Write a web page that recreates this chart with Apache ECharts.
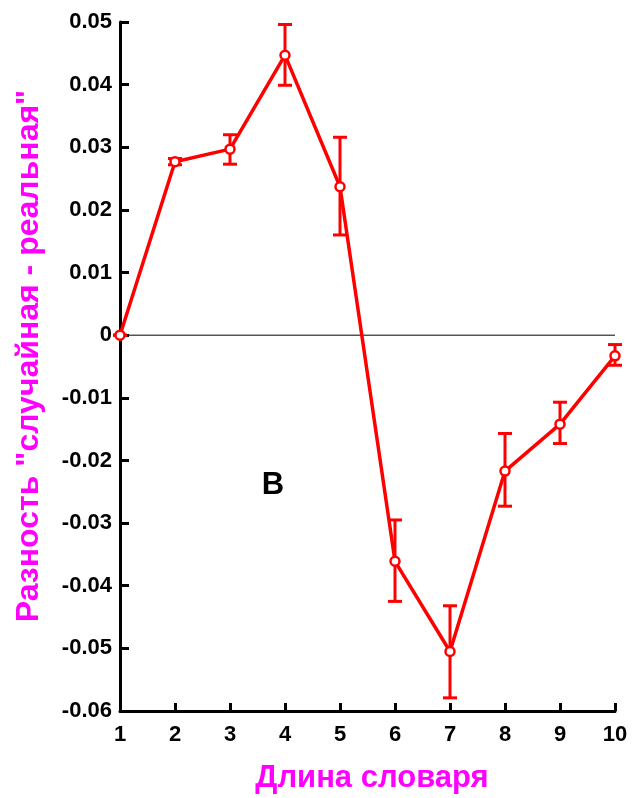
<!DOCTYPE html>
<html><head><meta charset="utf-8">
<script src="https://cdn.jsdelivr.net/npm/echarts@6/dist/echarts.min.js"></script>
<style>html,body{margin:0;padding:0;background:#fff}#c{width:640px;height:798px}</style>
</head><body><div id="c"></div>
<script>
const xs = [1, 2, 3, 4, 5, 6, 7, 8, 9, 10];
const ys = [0, 0.0277, 0.0297, 0.0447, 0.0237, -0.0361, -0.0505, -0.0217, -0.0142, -0.0033];
const errLow = [0, 0.0272, 0.0273, 0.0399, 0.0160, -0.0425, -0.0579, -0.0273, -0.0173, -0.0048];
const errHigh = [0, 0.0282, 0.0320, 0.0496, 0.0316, -0.0295, -0.0432, -0.0157, -0.0107, -0.0015];
const yTicks = [0.05, 0.04, 0.03, 0.02, 0.01, 0, -0.01, -0.02, -0.03, -0.04, -0.05, -0.06];
const xTitle = 'Длина словаря';
const yTitle = 'Разность "случайная - реальная"';
const panelLabel = 'В';

const font = 'Arial, "Liberation Sans", sans-serif';
const chart = echarts.init(document.getElementById('c'));
const errData = xs.map((x, i) => [x, errLow[i], errHigh[i]]);
chart.setOption({
  animation: false,
  grid: {left: 120, right: 25, top: 22, bottom: 87},
  xAxis: {
    type: 'value', min: 1, max: 10, interval: 1,
    axisLine: {onZero: false, lineStyle: {color: '#000', width: 3}},
    axisTick: {inside: true, length: 8, lineStyle: {color: '#000', width: 3}},
    axisLabel: {color: '#000', fontFamily: font, fontWeight: 'bold', fontSize: 22, margin: 13},
    splitLine: {show: false}
  },
  yAxis: {
    type: 'value', min: -0.06, max: 0.05, interval: 0.01,
    axisLine: {lineStyle: {color: '#000', width: 3}},
    axisTick: {inside: true, length: 9, lineStyle: {color: '#000', width: 3}},
    axisLabel: {color: '#000', fontFamily: font, fontWeight: 'bold', fontSize: 22, margin: 8,
      formatter: v => { const r = Math.round(v * 100) / 100; return r === 0 ? '0' : String(r); }},
    splitLine: {show: false}
  },
  series: [
    {
      type: 'line', data: [[1, 0], [10, 0]], symbol: 'none', silent: true,
      lineStyle: {color: '#000', width: 1}, z: 1
    },
    {
      type: 'custom', data: errData, z: 3,
      renderItem: (params, api) => {
        const x = api.value(0);
        const lo = api.coord([x, api.value(1)]);
        const hi = api.coord([x, api.value(2)]);
        const hw = 7;
        const st = {stroke: '#ff0000', lineWidth: 3};
        return {type: 'group', children: [
          {type: 'line', shape: {x1: lo[0], y1: lo[1], x2: hi[0], y2: hi[1]}, style: st},
          {type: 'line', shape: {x1: lo[0] - hw, y1: lo[1], x2: lo[0] + hw, y2: lo[1]}, style: st},
          {type: 'line', shape: {x1: hi[0] - hw, y1: hi[1], x2: hi[0] + hw, y2: hi[1]}, style: st}
        ]};
      }
    },
    {
      type: 'line', data: xs.map((x, i) => [x, ys[i]]), z: 4,
      symbol: 'circle', symbolSize: 9,
      itemStyle: {color: '#fff', borderColor: '#ff0000', borderWidth: 2.5},
      lineStyle: {color: '#ff0000', width: 3.5}
    }
  ],
  graphic: [
    {type: 'text', x: 372, y: 778,
      style: {text: xTitle, fontFamily: font, fontWeight: 'bold', fontSize: 31, fill: '#ff00ff',
        align: 'center', verticalAlign: 'middle'}},
    {type: 'text', x: 29, y: 356, rotation: Math.PI / 2,
      style: {text: yTitle, fontFamily: font, fontWeight: 'bold', fontSize: 32, fill: '#ff00ff',
        align: 'center', verticalAlign: 'middle'}},
    {type: 'text', x: 273, y: 485,
      style: {text: panelLabel, fontFamily: font, fontWeight: 'bold', fontSize: 31, fill: '#000',
        align: 'center', verticalAlign: 'middle'}}
  ]
});
</script></body></html>
